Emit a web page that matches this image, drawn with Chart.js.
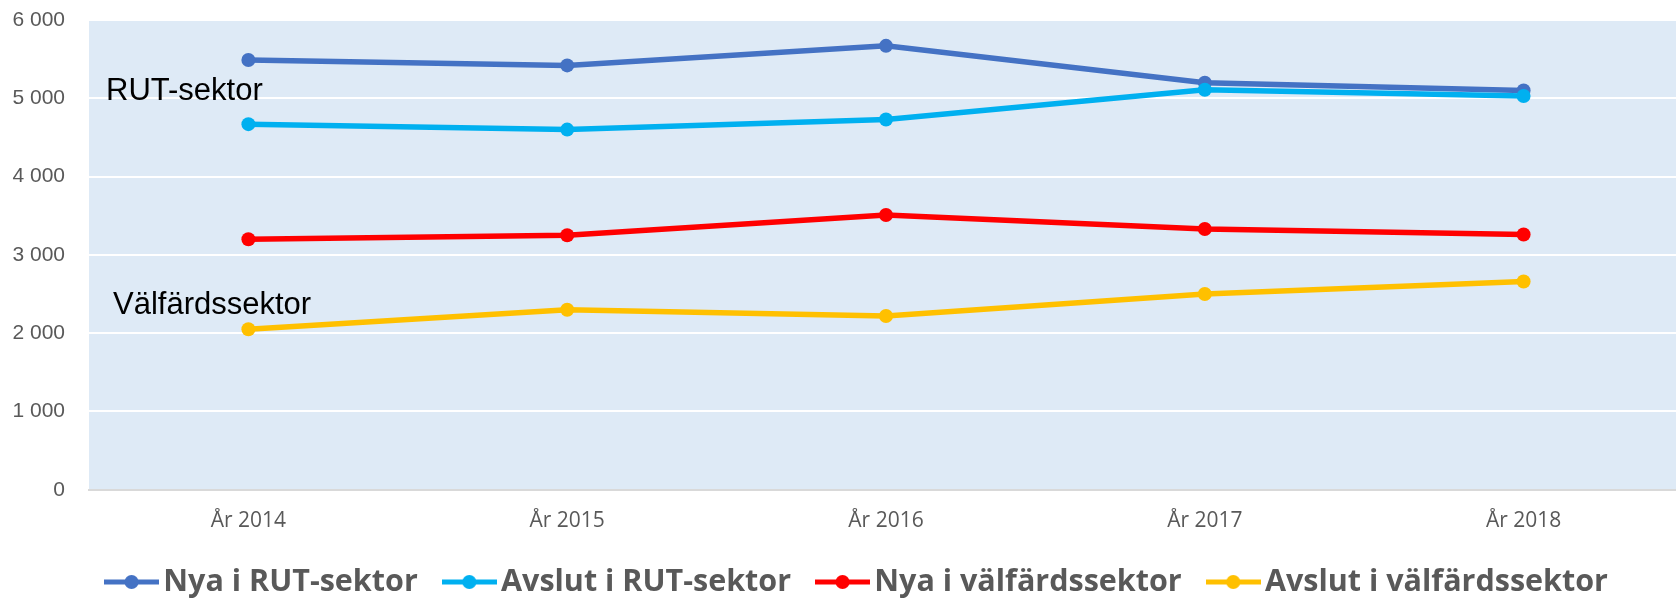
<!DOCTYPE html>
<html><head><meta charset="utf-8">
<script src="https://cdn.jsdelivr.net/npm/chart.js@4.4.1/dist/chart.umd.min.js"></script>
<style>html,body{margin:0;padding:0;background:#fff;overflow:hidden;width:1676px;height:599px;}#c{display:block;}</style>
</head><body><canvas id="c" width="1683" height="599"></canvas>
<script>
const categories = ['År 2014', 'År 2015', 'År 2016', 'År 2017', 'År 2018'];
const nyaRut = [5490, 5420, 5670, 5200, 5100];
const avslutRut = [4670, 4600, 4730, 5110, 5030];
const nyaValfard = [3200, 3250, 3510, 3330, 3260];
const avslutValfard = [2050, 2300, 2220, 2500, 2660];
const seriesNames = ['Nya i RUT-sektor', 'Avslut i RUT-sektor', 'Nya i välfärdssektor', 'Avslut i välfärdssektor'];
const seriesColors = ['#4472C4', '#00B0F0', '#FF0000', '#FFC000'];
const yTickValues = [0, 1000, 2000, 3000, 4000, 5000, 6000];
const sectorLabels = ['RUT-sektor', 'Välfärdssektor'];
const sectorLabelValues = [4975, 2250];

function fmt(v) { return String(v).replace(/\B(?=(\d{3})+(?!\d))/g, ' '); }

function legendImg(color) {
  const c = document.createElement('canvas');
  c.width = 55; c.height = 16;
  const g = c.getContext('2d');
  g.strokeStyle = color; g.lineWidth = 5;
  g.beginPath(); g.moveTo(0, 8); g.lineTo(55, 8); g.stroke();
  g.fillStyle = color;
  g.beginPath(); g.arc(27.5, 8, 7, 0, Math.PI * 2); g.fill();
  return c;
}

const bgPlugin = {
  id: 'bg',
  beforeDraw(chart) {
    const { ctx, chartArea: a } = chart;
    ctx.save();
    ctx.fillStyle = '#DEEAF6';
    ctx.fillRect(a.left, a.top, a.right - a.left, a.bottom - a.top);
    ctx.restore();
  }
};

const sectorPlugin = {
  id: 'sector',
  afterLayout(chart) {
    chart.legend.left += 40;
  },
  afterDraw(chart) {
    const { ctx, chartArea: a, scales } = chart;
    ctx.save();
    ctx.fillStyle = '#000';
    ctx.font = '31px "Liberation Sans", Arial, sans-serif';
    ctx.textBaseline = 'alphabetic';
    ctx.textAlign = 'left';
    const offs = [17, 24];
    sectorLabels.forEach((t, i) => {
      ctx.fillText(t, a.left + offs[i], scales.y.getPixelForValue(sectorLabelValues[i]));
    });
    ctx.restore();
  }
};

const seriesData = [nyaRut, avslutRut, nyaValfard, avslutValfard];
const datasets = seriesData.map((d, i) => ({
  label: seriesNames[i],
  data: d,
  borderColor: seriesColors[i],
  backgroundColor: seriesColors[i],
  borderWidth: 5.5,
  pointRadius: 7,
  pointBorderWidth: 0,
  pointBackgroundColor: seriesColors[i],
  tension: 0,
  order: 4 - i
}));

new Chart(document.getElementById('c'), {
  type: 'line',
  data: { labels: categories, datasets },
  plugins: [bgPlugin, sectorPlugin],
  options: {
    responsive: false,
    devicePixelRatio: 1,
    animation: false,
    layout: { autoPadding: false, padding: { left: 0, right: 0, top: 20, bottom: -8.25 } },
    plugins: {
      title: { display: false },
      tooltip: { enabled: false },
      legend: {
        position: 'bottom',
        labels: {
          usePointStyle: true,
          pointStyleWidth: 33,
          padding: 35,
          color: '#595959',
          font: { family: '"Open Sans", sans-serif', size: 30.5, weight: 'bold' },
          generateLabels(chart) {
            return chart.data.datasets.map((ds, i) => ({
              text: ds.label,
              fillStyle: seriesColors[i],
              strokeStyle: seriesColors[i],
              lineWidth: 0,
              pointStyle: legendImg(seriesColors[i]),
              datasetIndex: i,
              hidden: false,
              fontColor: '#595959'
            }));
          }
        }
      }
    },
    scales: {
      x: {
        offset: true,
        grid: { display: false, drawTicks: false },
        border: { display: true, color: '#D9D9D9', width: 2 },
        ticks: { color: '#595959', font: { family: '"Open Sans", sans-serif', size: 21 }, padding: 18.5, maxRotation: 0 },
        afterFit(scale) { scale.height = 42; scale.paddingLeft = 0; scale.paddingRight = 0; }
      },
      y: {
        min: 0, max: 6000,
        afterBuildTicks(scale) { scale.ticks = yTickValues.map(v => ({ value: v })); },
        grid: { color: '#FFFFFF', lineWidth: 2, drawTicks: false },
        border: { display: false },
        ticks: { color: '#595959', font: { family: '"Liberation Sans", Arial, sans-serif', size: 21 }, padding: 24, callback: (v) => fmt(v) },
        afterFit(scale) { scale.width = 89; scale.paddingTop = 0; scale.paddingBottom = 0; }
      }
    }
  }
});
</script></body></html>
